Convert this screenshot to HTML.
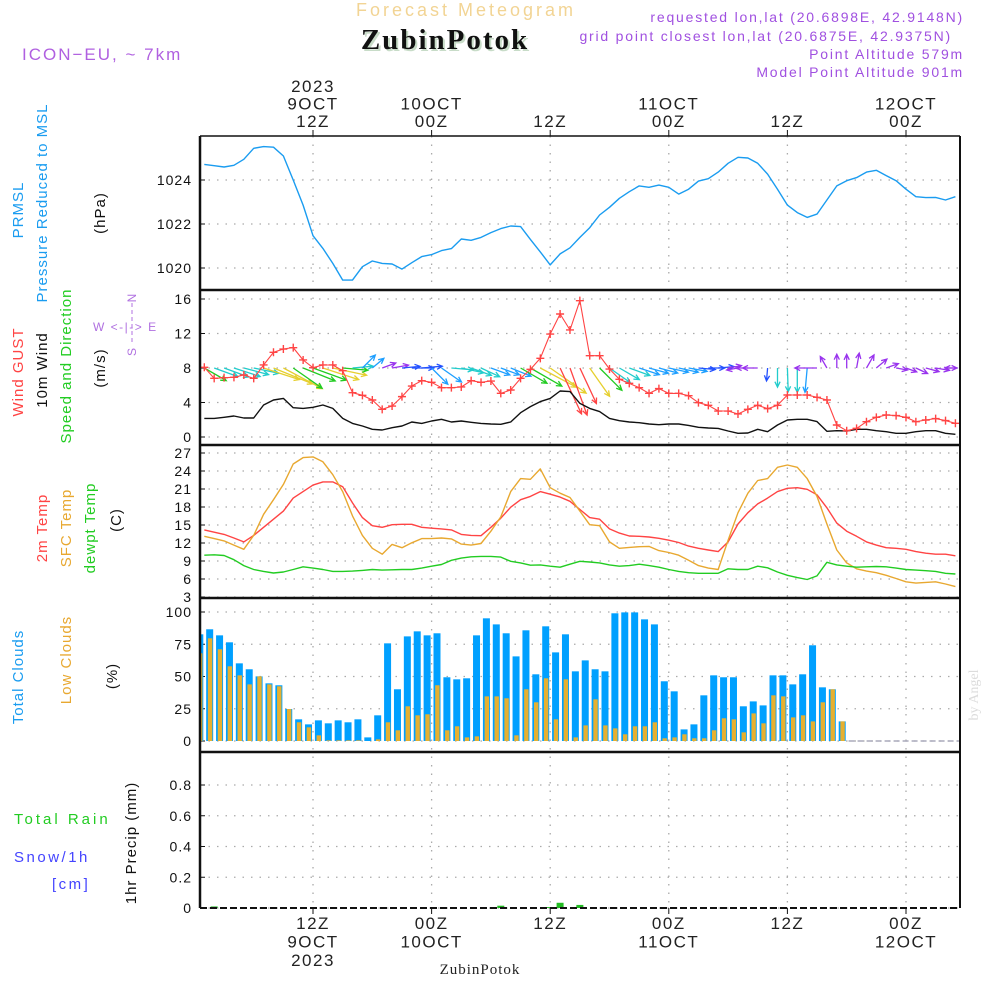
<!DOCTYPE html>
<html><head><meta charset="utf-8"><style>
html,body{margin:0;padding:0;background:#fff;}
svg{display:block;font-family:"Liberation Sans",sans-serif;}
</style></head><body>
<svg id="chart" width="1000" height="1000" viewBox="0 0 1000 1000" xmlns="http://www.w3.org/2000/svg">
<rect x="0" y="0" width="1000" height="1000" fill="#fff"/>
<text x="466" y="16" text-anchor="middle" font-size="18" letter-spacing="3" fill="#f2d494">Forecast Meteogram</text>
<text x="447" y="51" text-anchor="middle" font-size="29" font-weight="bold" font-family="Liberation Serif, serif" fill="#c8dcc8" letter-spacing="2">ZubinPotok</text>
<text x="445" y="49" text-anchor="middle" font-size="29" font-weight="bold" font-family="Liberation Serif, serif" fill="#111" letter-spacing="2">ZubinPotok</text>
<text x="22" y="60" font-size="17" letter-spacing="2" fill="#b060e0">ICON−EU, ~ 7km</text>
<g font-size="14" fill="#a050e0" text-anchor="end" letter-spacing="1.8">
<text x="964" y="22">requested lon,lat (20.6898E, 42.9148N)</text>
<text x="952" y="41">grid point closest lon,lat (20.6875E, 42.9375N)</text>
<text x="964" y="59">Point Altitude 579m</text>
<text x="964" y="77">Model Point Altitude 901m</text>
</g>
<text x="978" y="695" transform="rotate(-90 978 695)" text-anchor="middle" font-size="14" font-family="Liberation Serif, serif" fill="#dcdcdc">by Angel</text>
<text x="480" y="974" text-anchor="middle" font-size="15" font-family="Liberation Serif, serif" letter-spacing="1" fill="#222">ZubinPotok</text>
<g id="plot"></g>
</svg>
<script>
// ---- data (hourly from 01Z 9 Oct 2023) ----
const pressure = [1024.71,1024.65,1024.59,1024.67,1024.94,1025.44,1025.52,1025.49,1025.09,1024.0,1022.86,1021.47,1020.89,1020.21,1019.45,1019.45,1020.06,1020.32,1020.21,1020.18,1019.95,1020.24,1020.52,1020.61,1020.79,1020.88,1021.32,1021.26,1021.39,1021.61,1021.79,1021.91,1021.88,1021.30,1020.73,1020.14,1020.64,1020.92,1021.39,1021.83,1022.41,1022.76,1023.17,1023.47,1023.73,1023.67,1023.77,1023.67,1023.36,1023.58,1023.95,1024.06,1024.36,1024.76,1025.03,1025.0,1024.76,1024.27,1023.58,1022.86,1022.52,1022.30,1022.45,1023.09,1023.73,1023.97,1024.11,1024.36,1024.44,1024.20,1023.97,1023.58,1023.24,1023.2,1023.21,1023.09,1023.24];
const gust = [8.08,6.80,6.88,6.92,7.19,6.80,8.35,9.82,10.2,10.36,8.93,8.04,8.35,8.35,7.69,5.14,4.83,4.29,3.21,3.59,4.68,5.91,6.53,6.34,5.72,5.72,5.80,6.53,6.34,6.49,5.06,5.45,6.80,7.84,9.12,11.94,14.26,12.41,15.81,9.43,9.43,7.88,6.69,6.22,5.72,5.06,5.61,5.06,5.06,4.79,3.98,3.67,3.01,3.01,2.67,3.21,3.67,3.29,3.67,4.87,4.87,4.87,4.60,4.29,1.39,0.73,1.0,1.77,2.28,2.55,2.48,2.28,1.77,1.97,2.13,1.90,1.59];
const windSpeed = [2.16,2.16,2.28,2.44,2.20,2.20,3.71,4.29,4.48,3.40,3.32,3.44,3.71,3.32,2.16,1.58,1.28,0.89,0.81,1.08,1.28,1.74,1.58,1.86,2.05,1.74,1.86,1.70,1.58,1.51,1.47,1.74,2.82,3.52,4.10,4.48,5.33,5.26,3.90,3.32,2.94,2.16,1.89,1.74,1.66,1.51,1.43,1.51,1.51,1.35,1.12,1.04,1.0,0.70,0.43,0.46,0.89,0.62,1.39,1.97,2.05,2.05,1.78,0.66,0.73,0.70,0.89,0.89,0.73,0.62,0.43,0.43,0.62,0.73,0.73,0.43,0.31];
const windDir = [30,20,20,18,15,12,18,22,28,35,22,20,18,12,5,-5,-45,-40,-20,-10,-5,0,-5,45,35,5,12,20,25,20,20,22,30,30,28,35,65,70,65,55,45,35,30,20,18,15,15,12,12,10,5,0,-5,-10,170,180,180,95,90,88,90,95,180,-120,-90,-90,-80,-60,-40,-20,10,20,25,15,10,0,180];
const windClass = ["g","c","c","c","c","c","y","y","y","g","g","g","y","y","g","c","l","l","p","p","b","b","b","l","l","c","c","c","c","l","l","l","g","g","y","y","r","r","r","y","g","c","c","c","l","l","l","l","l","l","b","b","b","p","p","p","p","b","c","c","c","l","p","p","p","p","p","p","p","p","p","p","p","p","p","p","p"];
const temp2m = [14.19,13.8,13.43,12.84,12.19,13.27,14.62,15.97,17.32,19.49,20.57,21.65,22.19,22.19,21.38,18.68,16.24,14.89,14.62,15.05,15.11,15.11,14.62,14.46,14.35,14.19,13.43,13.27,13.22,14.62,16.14,17.97,19.22,19.76,20.57,20.14,19.65,18.95,17.59,16.24,15.97,14.35,13.65,13.16,13.11,13.0,12.78,12.46,12.08,11.49,11.11,10.84,10.57,12.19,15.16,17.05,18.51,19.49,20.57,21.11,21.22,20.95,20.03,17.86,15.32,13.97,13.11,12.19,11.65,11.22,11.11,10.95,10.57,10.3,10.14,10.14,9.86];
const tempSfc = [13.11,12.73,12.35,11.65,10.95,13.27,16.78,19.22,21.76,25.16,26.24,26.35,25.54,23.38,20.57,16.51,13.27,11.11,10.14,11.76,11.22,12.03,12.73,12.73,12.84,12.68,11.81,11.65,11.92,13.97,16.35,20.57,22.73,22.62,24.35,21.22,20.3,19.59,17.32,15.05,14.89,12.19,11.11,11.27,11.38,11.43,10.73,10.41,9.97,9.11,8.24,7.81,7.59,12.46,17.05,20.3,22.41,22.73,24.62,25.0,24.62,22.73,19.76,15.16,10.84,8.68,7.7,7.32,7.05,6.62,6.08,5.54,5.32,5.43,5.54,5.16,4.73];
const dewpt = [9.97,10.03,9.92,9.22,8.24,7.59,7.27,7.0,7.16,7.59,8.03,7.81,7.59,7.27,7.27,7.32,7.43,7.59,7.49,7.54,7.59,7.59,7.81,8.14,8.41,9.11,9.49,9.7,9.76,9.76,9.65,8.95,8.68,8.3,8.35,8.14,7.97,8.46,8.95,8.84,8.68,8.35,8.14,8.24,8.46,8.24,7.97,7.59,7.27,7.05,6.95,6.95,6.95,7.7,7.59,7.59,8.14,7.86,7.16,6.62,6.24,5.92,6.51,8.78,8.35,8.14,7.97,8.03,8.08,8.03,7.81,7.59,7.49,7.38,7.27,6.95,6.84];
const totalClouds = [82.7,86.6,81.9,76.5,60.2,55.6,50.1,44.7,43.2,24.8,16.8,12.9,16.0,13.7,16.0,14.5,16.8,2.8,19.9,75.7,40.1,81.1,85.0,81.9,83.5,49.4,47.8,48.6,81.9,95.1,90.4,83.5,65.6,85.8,51.7,88.9,68.7,82.7,54.0,62.5,55.6,54.0,99.0,99.7,99.7,94.3,90.4,46.3,38.5,9.0,12.9,35.4,50.9,49.4,49.4,26.9,30.7,27.6,50.9,50.9,43.9,51.7,74.2,41.6,40.1,15.2];
const lowClouds = [68.0,79.6,71.1,57.9,50.9,43.9,50.1,43.9,42.4,24.8,14.5,10.6,4.4,0.5,0.5,0.5,0.5,0,1.3,14.5,8.3,26.9,19.9,20.7,43.2,8.3,11.4,2.8,3.6,34.6,34.6,33.1,4.4,40.1,30.0,48.6,16.8,47.8,2.8,12.1,32.3,12.1,9.8,5.2,11.4,11.4,14.5,2.1,2.8,5.2,2.1,2.1,8.3,17.6,16.8,6.7,21.4,13.7,35.4,34.6,18.3,19.9,15.2,30.0,40.1,15.2];
const precipHours = [1,30,35,36,38];
const precipValues = [0.01,0.015,0.006,0.034,0.02];
const pressureTicks = [1020,1022,1024];
const windTicks = [0,4,8,12,16];
const tempTicks = [3,6,9,12,15,18,21,24,27];
const cloudTicks = [0,25,50,75,100];
const precipTicks = [0,0.2,0.4,0.6,0.8];
const timeHours = [11,23,35,47,59,71];
const topLabels = [["2023","9OCT","12Z"],["","10OCT","00Z"],["","","12Z"],["","11OCT","00Z"],["","","12Z"],["","12OCT","00Z"]];
const bottomLabels = [["12Z","9OCT","2023"],["00Z","10OCT",""],["12Z","",""],["00Z","11OCT",""],["12Z","",""],["00Z","12OCT",""]];

// ---- scales ----
const X0 = 200, X1 = 960;
const xh = h => 204.3 + h * 9.883;
const yP = v => 268 - (v - 1020) * 22;
const yW = v => 437 - v * 8.625;
const yT = v => 453 + (27 - v) * 6;
const yC = v => 741 - v * 1.29;
const yR = v => 908 - v * 153.75;
const classColor = {g:"#22cc22",c:"#22cccc",l:"#1e9fff",b:"#2250ff",p:"#9933ee",y:"#e6cf2e",r:"#ff4444"};

const NS = "http://www.w3.org/2000/svg";
const plot = document.getElementById("plot");
function mk(tag, attrs, parent) {
  const e = document.createElementNS(NS, tag);
  for (const k in attrs) e.setAttribute(k, attrs[k]);
  (parent || plot).appendChild(e);
  return e;
}
function txt(x, y, s, attrs, parent) {
  const e = mk("text", Object.assign({x: x, y: y}, attrs), parent);
  e.textContent = s;
  return e;
}
function line(arr, sx, sy, color, w, name) {
  const d = arr.map((v, i) => (i ? "L" : "M") + sx(i).toFixed(1) + " " + sy(v).toFixed(1)).join("");
  const p = mk("path", {d: d, fill: "none", stroke: color, "stroke-width": w, "stroke-linejoin": "round"});
  
  
  return p;
}

// grids
const grid = mk("g", {stroke: "#aaa", "stroke-width": 1.3, "stroke-dasharray": "1.5 7"});


function hgrid(ticks, sy) { ticks.forEach(t => mk("line", {x1: X0, x2: X1, y1: sy(t), y2: sy(t)}, grid)); }
hgrid(pressureTicks, yP); hgrid(windTicks, yW); hgrid(tempTicks, yT); hgrid(cloudTicks, yC); hgrid(precipTicks, yR);
timeHours.forEach(h => mk("line", {x1: xh(h), x2: xh(h), y1: 136, y2: 908}, grid));

// y tick labels
function yTicks(ticks, sy, fmt, name) {
  const g = mk("g", {"font-size": 14, fill: "#111", "text-anchor": "end", "letter-spacing": 1});
  
  
  ticks.forEach(t => {
    txt(192, sy(t) + 5, fmt(t), {}, g);
    mk("line", {x1: X0, x2: X0 + 5, y1: sy(t), y2: sy(t), stroke: "#111", "stroke-width": 1}, g);
  });
}
yTicks(pressureTicks, yP, t => String(t), "pressure-y-ticks");
yTicks(windTicks, yW, t => String(t), "wind-y-ticks");
yTicks(tempTicks, yT, t => String(t), "temp-y-ticks");
yTicks(cloudTicks, yC, t => String(t), "cloud-y-ticks");
yTicks(precipTicks, yR, t => t === 0 ? "0" : t.toFixed(1), "precip-y-ticks");

// time labels
const tl = mk("g", {"font-size": 17, fill: "#222", "text-anchor": "middle", "letter-spacing": 1.5});


timeHours.forEach((h, i) => {
  const x = xh(h);
  topLabels[i].forEach((s, j) => { if (s) txt(x, 92 + j * 17.5, s, {}, tl); });
  bottomLabels[i].forEach((s, j) => { if (s) txt(x, 929 + j * 18.5, s, {}, tl); });
  mk("line", {x1: x, x2: x, y1: 130, y2: 136, stroke: "#111"}, tl);
  mk("line", {x1: x, x2: x, y1: 908, y2: 914, stroke: "#111"}, tl);
});

// pressure
line(pressure, xh, yP, "#1a9cf0", 1.4, "pressure-line");

// wind arrows
const wa = mk("g", {"stroke-width": 1.3, fill: "none"});


windDir.forEach((d, i) => {
  const len = 8 + windSpeed[i] * 8;
  const a = d * Math.PI / 180;
  const x0 = xh(i), y0 = yW(8);
  const x1 = x0 + len * Math.cos(a), y1 = y0 + len * Math.sin(a);
  const c = classColor[windClass[i]];
  const ar = mk("path", {d: "M" + x0.toFixed(1) + " " + y0.toFixed(1) + "L" + x1.toFixed(1) + " " + y1.toFixed(1) +
    "M" + (x1 - 6 * Math.cos(a - 0.45)).toFixed(1) + " " + (y1 - 6 * Math.sin(a - 0.45)).toFixed(1) + "L" + x1.toFixed(1) + " " + y1.toFixed(1) +
    "L" + (x1 - 6 * Math.cos(a + 0.45)).toFixed(1) + " " + (y1 - 6 * Math.sin(a + 0.45)).toFixed(1), stroke: c}, wa);
  
  
});

// wind speed & gust
line(windSpeed, xh, yW, "#111", 1.4, "wind-speed-line");
line(gust, xh, yW, "#ff4444", 1.1, "wind-gust-line");
const gm = mk("g", {stroke: "#ff4444", "stroke-width": 1.4});


gust.forEach((v, i) => {
  const x = xh(i), y = yW(v);
  const m = mk("path", {d: `M${x - 4} ${y}H${x + 4}M${x} ${y - 4}V${y + 4}`}, gm);
  
  
});

// temps
line(temp2m, xh, yT, "#ff4444", 1.4, "temp-2m-line");
line(tempSfc, xh, yT, "#e8a830", 1.4, "temp-sfc-line");
line(dewpt, xh, yT, "#22cc22", 1.4, "dewpoint-line");

// clouds
const cb = mk("g", {});


totalClouds.forEach((v, i) => {
  const xc = xh(i) - 4.5;
  const xl = Math.max(X0, xc - 3.5);
  const r = mk("rect", {x: xl, y: yC(v), width: xc + 3.5 - xl, height: yC(0) - yC(v), fill: "#00a0ff"}, cb);
  
  
  const lv = lowClouds[i];
  if (lv > 0) {
    const xo = Math.max(X0, xc - 1.8);
    const o = mk("rect", {x: xo, y: yC(lv), width: xc + 2.6 - xo, height: yC(0) - yC(lv), fill: "#e6b030"}, cb);
    
    
  }
});
mk("line", {x1: xh(totalClouds.length) - 8, x2: X1, y1: yC(0), y2: yC(0), stroke: "#aab", "stroke-width": 1.5, "stroke-dasharray": "6 3"}, cb);

// precip
const pb = mk("g", {fill: "#22bb22"});


precipHours.forEach((h, i) => {
  const v = precipValues[i];
  const r = mk("rect", {x: xh(h) - 3.5, y: yR(v), width: 7, height: yR(0) - yR(v)}, pb);
  
  
});

// frames
const fr = mk("g", {stroke: "#111", fill: "none"});


mk("line", {x1: X0, x2: X1, y1: 136, y2: 136, "stroke-width": 1.5}, fr);
[290, 445, 598, 752].forEach(y => mk("line", {x1: X0, x2: X1, y1: y, y2: y, "stroke-width": 2.5}, fr));
mk("line", {x1: X0, x2: X1, y1: 908, y2: 908, "stroke-width": 2, "stroke-dasharray": "7 3"}, fr);
mk("line", {x1: X0, x2: X0, y1: 136, y2: 908, "stroke-width": 2.5}, fr);
mk("line", {x1: X1, x2: X1, y1: 136, y2: 908, "stroke-width": 2}, fr);

// left labels
function vlab(x, y, s, color, name) {
  const t = txt(x, y, s, {transform: `rotate(-90 ${x} ${y})`, "text-anchor": "middle", "font-size": 15, fill: color, "letter-spacing": 1});
  
  
}
vlab(23, 210, "PRMSL", "#1a9cf0", "prmsl-label");
vlab(47, 203, "Pressure Reduced to MSL", "#1a9cf0", "pressure-label");
vlab(105, 213, "(hPa)", "#111", "pressure-unit");
vlab(23, 372, "Wind GUST", "#ff4444", "gust-label");
vlab(47, 370, "10m Wind", "#111", "wind-label");
vlab(71, 366, "Speed and Direction", "#22cc22", "wind-direction-label");
vlab(105, 368, "(m/s)", "#111", "wind-unit");
vlab(47, 528, "2m Temp", "#ff4444", "temp-2m-label");
vlab(71, 528, "SFC Temp", "#e8a830", "temp-sfc-label");
vlab(95, 528, "dewpt Temp", "#22cc22", "dewpoint-label");
vlab(121, 520, "(C)", "#111", "temp-unit");
vlab(23, 677, "Total Clouds", "#1a9cf0", "total-clouds-label");
vlab(71, 660, "Low Clouds", "#e8a830", "low-clouds-label");
vlab(117, 676, "(%)", "#111", "cloud-unit");
vlab(136, 843, "1hr Precip (mm)", "#111", "precip-label");
const l1 = txt(14, 824, "Total  Rain", {"font-size": 15, fill: "#22cc22", "letter-spacing": 3, "xml:space": "preserve"});


const l2 = txt(14, 862, "Snow/1h", {"font-size": 15, fill: "#4444ff", "letter-spacing": 2.5});


const l3 = txt(52, 889, "[cm]", {"font-size": 15, fill: "#4444ff", "letter-spacing": 2.5});



// compass
const cp = mk("g", {fill: "#b070e0", "font-size": 12});


txt(93, 331, "W <-|-> E", {"letter-spacing": 1.5}, cp);
txt(136, 298, "N", {transform: "rotate(-90 136 298)", "text-anchor": "middle"}, cp);
txt(136, 352, "S", {transform: "rotate(-90 136 352)", "text-anchor": "middle"}, cp);
mk("line", {x1: 132, x2: 132, y1: 303, y2: 345, stroke: "#b070e0", "stroke-dasharray": "4 3"}, cp);
</script>
</body></html>
